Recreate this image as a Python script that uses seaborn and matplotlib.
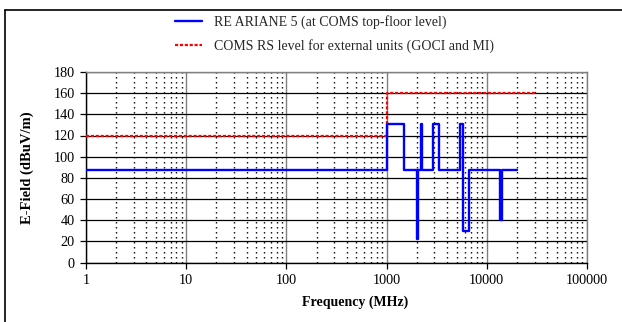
import matplotlib
matplotlib.use("Agg")
import matplotlib.pyplot as plt
import seaborn as sns
import numpy as np
import pandas as pd
from matplotlib.lines import Line2D
from matplotlib.ticker import LogLocator, NullFormatter

# ---- data ----
re_freq = [1, 1000, 1000, 1500, 1500, 2000, 2000, 2040, 2040, 2200, 2200, 2240, 2240,
           2900, 2900, 3350, 3350, 5350, 5350, 5750, 5750, 5850, 5850, 6700, 6700,
           13400, 13400, 14300, 14300, 20000]
re_level = [87, 87, 131, 131, 87, 87, 22, 22, 87, 87, 131, 131, 87,
            87, 131, 131, 87, 87, 131, 131, 87, 87, 30, 30, 87,
            87, 40, 40, 87, 87]
rs_freq = [1, 1000, 1000, 30000]
rs_level = [120, 120, 160, 160]

series_labels = ["RE ARIANE 5 (at COMS top-floor level)",
                 "COMS RS level for external units (GOCI and MI)"]
x_ticks = [1, 10, 100, 1000, 10000, 100000]
x_tick_labels = ["1", "10", "100", "1000", "10000", "100000"]
y_ticks = [0, 20, 40, 60, 80, 100, 120, 140, 160, 180]
x_label = "Frequency (MHz)"
y_label = "E-Field (dBuV/m)"

sns.set_theme(style="white")
plt.rcParams["font.family"] = ["Liberation Serif", "DejaVu Serif"]
plt.rcParams["font.size"] = 10

W, H = 622, 322
fig = plt.figure(figsize=(W / 100, H / 100), dpi=100)
left, right = 86 / W, 587 / W
bottom, top = 1 - 262.5 / H, 1 - 72 / H
ax = fig.add_axes([left, bottom, right - left, top - bottom])

re_df = pd.DataFrame({"freq": re_freq, "level": re_level})
rs_df = pd.DataFrame({"freq": rs_freq, "level": rs_level})

sns.lineplot(data=re_df, x="freq", y="level", sort=False, estimator=None,
             color="#0000ff", linewidth=1.7, label=series_labels[0], ax=ax, zorder=5)
sns.lineplot(data=rs_df, x="freq", y="level", sort=False, estimator=None,
             color="#ff0000", linewidth=1.6, label=series_labels[1], ax=ax, zorder=4)
ax.lines[-1].set_linestyle((0, (1.4, 0.8)))

ax.set_xscale("log")
ax.set_xlim(1, 100000)
ax.set_ylim(0, 180)
ax.set_xticks(x_ticks)
ax.set_xticklabels(x_tick_labels)
ax.xaxis.set_minor_locator(LogLocator(base=10, subs=np.arange(2, 10)))
ax.xaxis.set_minor_formatter(NullFormatter())
ax.set_yticks(y_ticks)

ax.grid(False)
ax.xaxis.grid(True, which="major", color="#808080", linewidth=1.0)
ax.xaxis.grid(True, which="minor", color="black", linewidth=1.0, linestyle=(0, (1, 2.6)))
ax.yaxis.grid(True, which="major", color="black", linewidth=0.9)
ax.set_axisbelow(True)

ax.tick_params(axis="both", which="major", direction="out", length=4, width=0.9,
               color="black", labelsize=10.3, labelcolor="black", pad=4)
ax.tick_params(axis="x", which="minor", length=0)
ax.tick_params(left=True, bottom=True)

for s in ["left", "bottom"]:
    ax.spines[s].set_color("black")
    ax.spines[s].set_linewidth(1.0)
for s in ["top", "right"]:
    ax.spines[s].set_color("#808080")
    ax.spines[s].set_linewidth(1.0)

ax.set_xlabel(x_label, fontsize=10, fontweight="bold", color="black")
ax.set_ylabel(y_label, fontsize=10.5, fontweight="bold", color="black")
ax.xaxis.set_label_coords((355 - 86) / 501, (262.5 - 296) / 190.5)
ax.yaxis.set_label_coords((34 - 86) / 501, 0.5)

ax.get_legend().remove()
handles = ax.lines[:2]
fig.legend(handles, series_labels, loc="upper left",
           bbox_to_anchor=(175 / W, 1 - 15 / H), bbox_transform=fig.transFigure,
           frameon=False, fontsize=10, handlelength=1.95, handletextpad=0.85,
           labelspacing=0.75, borderpad=0, borderaxespad=0)

# outer frame (top and left edges visible)
fig.add_artist(Line2D([4.5 / W, 4.5 / W], [0, 1 - 9.5 / H], transform=fig.transFigure,
                      color="black", linewidth=1.2))
fig.add_artist(Line2D([4.5 / W, 1], [1 - 9.5 / H, 1 - 9.5 / H], transform=fig.transFigure,
                      color="black", linewidth=1.2))

fig.savefig("out.png", dpi=100, facecolor="white")
